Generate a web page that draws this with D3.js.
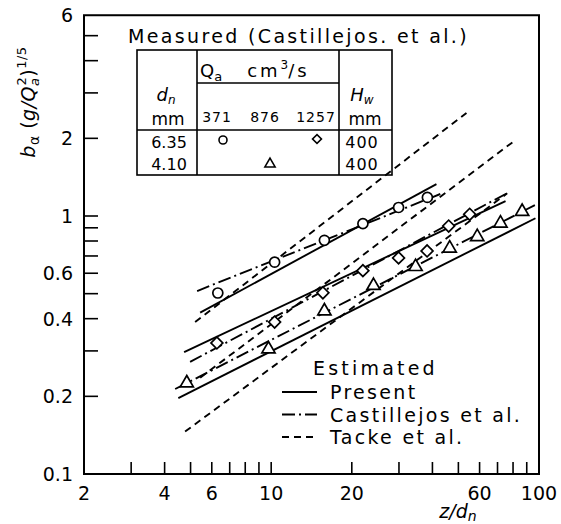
<!DOCTYPE html>
<html><head><meta charset="utf-8">
<script src="https://cdn.jsdelivr.net/npm/d3@7/dist/d3.min.js"></script>
<style>
body{margin:0;background:#fff;}
svg text{font-family:"DejaVu Sans",sans-serif;fill:#000;}
</style></head><body>
<svg id="c" width="561" height="524"></svg>
<script>
// ---- data ----
const xTickValues = [3,4,5,6,7,8,9,10,20,30,40,50,60,70,80,90];
const xTickLabels = [2,4,6,10,20,60,100];
const yTickValues = [0.2,0.3,0.4,0.5,0.6,0.7,0.8,0.9,1,2,3,4,5];
const yTickLabels = [0.1,0.2,0.4,0.6,1,2,6];

// measured points (z/dn, b)
const circles  = [[6.32,0.503],[10.3,0.662],[15.8,0.805],[22.0,0.934],[29.9,1.079],[38.3,1.18]];
const diamonds = [[6.27,0.322],[10.3,0.388],[15.6,0.504],[22.0,0.614],[29.9,0.688],[38.2,0.732],[46.0,0.914],[55.1,1.015]];
const triangles= [[4.84,0.225],[9.77,0.305],[15.8,0.428],[24.1,0.537],[34.6,0.636],[46.4,0.750],[58.8,0.831],[71.8,0.937],[86.5,1.04]];

// estimated lines: [x1,y1,x2,y2]  (circles, diamonds, triangles)
const presentLines = [[5.43,0.422,41.4,1.33],[4.73,0.297,75,1.143],[4.5,0.197,97,0.98]];
const castLines    = [[5.29,0.512,42.8,1.217],[4.98,0.272,76.3,1.228],[4.38,0.2135,100,1.123]];
const tackeLines   = [[5.2,0.388,53.6,2.51],[5.43,0.236,81.7,1.97],[4.77,0.146,76.1,1.224]];

const x = d3.scaleLog().domain([2,100]).range([84,539]);
const y = d3.scaleLog().domain([0.1,6]).range([474,474-258*Math.log10(60)]);
const svg = d3.select("#c");

// frame
svg.append("rect").attr("x",x(2)).attr("y",y(6)).attr("width",x(100)-x(2)).attr("height",y(0.1)-y(6))
  .attr("fill","none").attr("stroke","#000").attr("stroke-width",2);

// x ticks
svg.selectAll(".xt").data(xTickValues).enter().append("line")
  .attr("x1",d=>x(d)).attr("x2",d=>x(d)).attr("y1",y(0.1)).attr("y2",y(0.1)-12)
  .attr("stroke","#000").attr("stroke-width",1.6);
svg.selectAll(".xl").data(xTickLabels).enter().append("text")
  .attr("x",d=>x(d)).attr("y",y(0.1)+26).attr("text-anchor","middle")
  .attr("font-size",19).text(d=>d);
// y ticks
svg.selectAll(".yt").data(yTickValues).enter().append("line")
  .attr("x1",x(2)).attr("x2",x(2)+14).attr("y1",d=>y(d)).attr("y2",d=>y(d))
  .attr("stroke","#000").attr("stroke-width",1.6);
svg.selectAll(".yl").data(yTickLabels).enter().append("text")
  .attr("x",x(2)-11).attr("y",d=>y(d)+7).attr("text-anchor","end")
  .attr("font-size",19).text(d=>d);

// axis titles
const xt = svg.append("text").attr("x",458).attr("y",518).attr("text-anchor","middle").attr("font-size",19);
xt.append("tspan").attr("font-style","italic").text("z/d");
xt.append("tspan").attr("font-style","italic").attr("font-size",14).attr("dy",3).text("n");

const yt = svg.append("text").attr("transform","translate(35,102) rotate(-90)").attr("text-anchor","middle").attr("font-size",19).attr("letter-spacing",0.5);
yt.append("tspan").attr("font-style","italic").text("b");
yt.append("tspan").attr("font-size",14).attr("dy",4).text("α");
yt.append("tspan").attr("dy",-4).text(" (");
yt.append("tspan").attr("font-style","italic").text("g/Q");
yt.append("tspan").attr("font-size",13).attr("dy",4).attr("font-style","italic").text("a");
yt.append("tspan").attr("font-size",13).attr("dy",-13).attr("dx",-8).text("2");
yt.append("tspan").attr("dy",9).text(")");
yt.append("tspan").attr("font-size",13).attr("dy",-9).text("1/5");

// lines
function drawLines(arr, dash){
  svg.selectAll(null).data(arr).enter().append("line")
    .attr("x1",d=>x(d[0])).attr("y1",d=>y(d[1])).attr("x2",d=>x(d[2])).attr("y2",d=>y(d[3]))
    .attr("stroke","#000").attr("stroke-width",1.9).attr("stroke-dasharray",dash);
}
drawLines(presentLines,null);
drawLines(castLines,"13,4,2,4");
drawLines(tackeLines,"7,5");

// markers
const mk = svg.append("g").attr("fill","#fff").attr("stroke","#000").attr("stroke-width",1.7);
mk.selectAll(null).data(circles).enter().append("circle").attr("cx",d=>x(d[0])).attr("cy",d=>y(d[1])).attr("r",5);
mk.selectAll(null).data(diamonds).enter().append("path")
  .attr("d",d3.symbol().type(d3.symbolSquare).size(70)).attr("transform",d=>`translate(${x(d[0])},${y(d[1])}) rotate(45)`);
mk.selectAll(null).data(triangles).enter().append("path")
  .attr("d",d3.symbol().type(d3.symbolTriangle).size(75)).attr("transform",d=>`translate(${x(d[0])},${y(d[1])})`);

// Measured table
svg.append("text").attr("x",128).attr("y",43).attr("font-size",19).attr("letter-spacing",2.35).text("Measured (Castillejos. et al.)");
const tb = svg.append("g").attr("stroke","#000").attr("stroke-width",1.6).attr("fill","none");
tb.append("rect").attr("x",137).attr("y",50).attr("width",255).attr("height",125);
tb.append("line").attr("x1",197).attr("x2",197).attr("y1",50).attr("y2",175);
tb.append("line").attr("x1",339).attr("x2",339).attr("y1",50).attr("y2",175);
tb.append("line").attr("x1",197).attr("x2",339).attr("y1",83).attr("y2",83);
tb.append("line").attr("x1",137).attr("x2",392).attr("y1",130).attr("y2",130);
function t(xp,yp,s,fs,anchor){ return svg.append("text").attr("x",xp).attr("y",yp).attr("font-size",fs||16).attr("text-anchor",anchor||"middle").text(s); }
const dn = svg.append("text").attr("x",166).attr("y",101).attr("font-size",18).attr("text-anchor","middle");
dn.append("tspan").attr("font-style","italic").text("d");
dn.append("tspan").attr("font-style","italic").attr("font-size",12).attr("dy",3).text("n");
t(168,125,"mm",17);
const qa = svg.append("text").attr("x",200).attr("y",77).attr("font-size",18);
qa.append("tspan").text("Q");
qa.append("tspan").attr("font-size",13).attr("dy",4).text("a");
qa.append("tspan").attr("dy",-4).attr("dx",25).attr("letter-spacing",3).text("cm");
qa.append("tspan").attr("font-size",12).attr("dy",-8).text("3");
qa.append("tspan").attr("dy",8).attr("letter-spacing",3).text("/s");
t(217,122,"371",14).attr("letter-spacing",1); t(265,122,"876",14).attr("letter-spacing",1); t(316,122,"1257",14).attr("letter-spacing",1);
const hw = svg.append("text").attr("x",362).attr("y",101).attr("font-size",18).attr("text-anchor","middle");
hw.append("tspan").attr("font-style","italic").text("H");
hw.append("tspan").attr("font-style","italic").attr("font-size",12).attr("dy",3).text("w");
t(365,125,"mm",17);
t(169,148,"6.35",16); t(169,170,"4.10",16);
t(362,148,"400",16).attr("letter-spacing",1); t(362,170,"400",16).attr("letter-spacing",1);
svg.append("circle").attr("cx",223).attr("cy",140).attr("r",4).attr("fill","#fff").attr("stroke","#000").attr("stroke-width",1.6);
svg.append("path").attr("d",d3.symbol().type(d3.symbolSquare).size(40)).attr("transform","translate(317,139) rotate(45)").attr("fill","#fff").attr("stroke","#000").attr("stroke-width",1.6);
svg.append("path").attr("d",d3.symbol().type(d3.symbolTriangle).size(45)).attr("transform","translate(270,164)").attr("fill","#fff").attr("stroke","#000").attr("stroke-width",1.6);

// Estimated legend
t(313,375,"Estimated",19,"start").attr("letter-spacing",3.2);
const lg = [["Present",null],["Castillejos et al.","13,4,2,4"],["Tacke et al.","7,5"]];
lg.forEach((d,i)=>{
  svg.append("line").attr("x1",282).attr("x2",317).attr("y1",392+i*22.5).attr("y2",392+i*22.5)
    .attr("stroke","#000").attr("stroke-width",1.9).attr("stroke-dasharray",d[1]);
  t(330,399+i*22.5,d[0],19,"start").attr("letter-spacing",2.3);
});
</script></body></html>
